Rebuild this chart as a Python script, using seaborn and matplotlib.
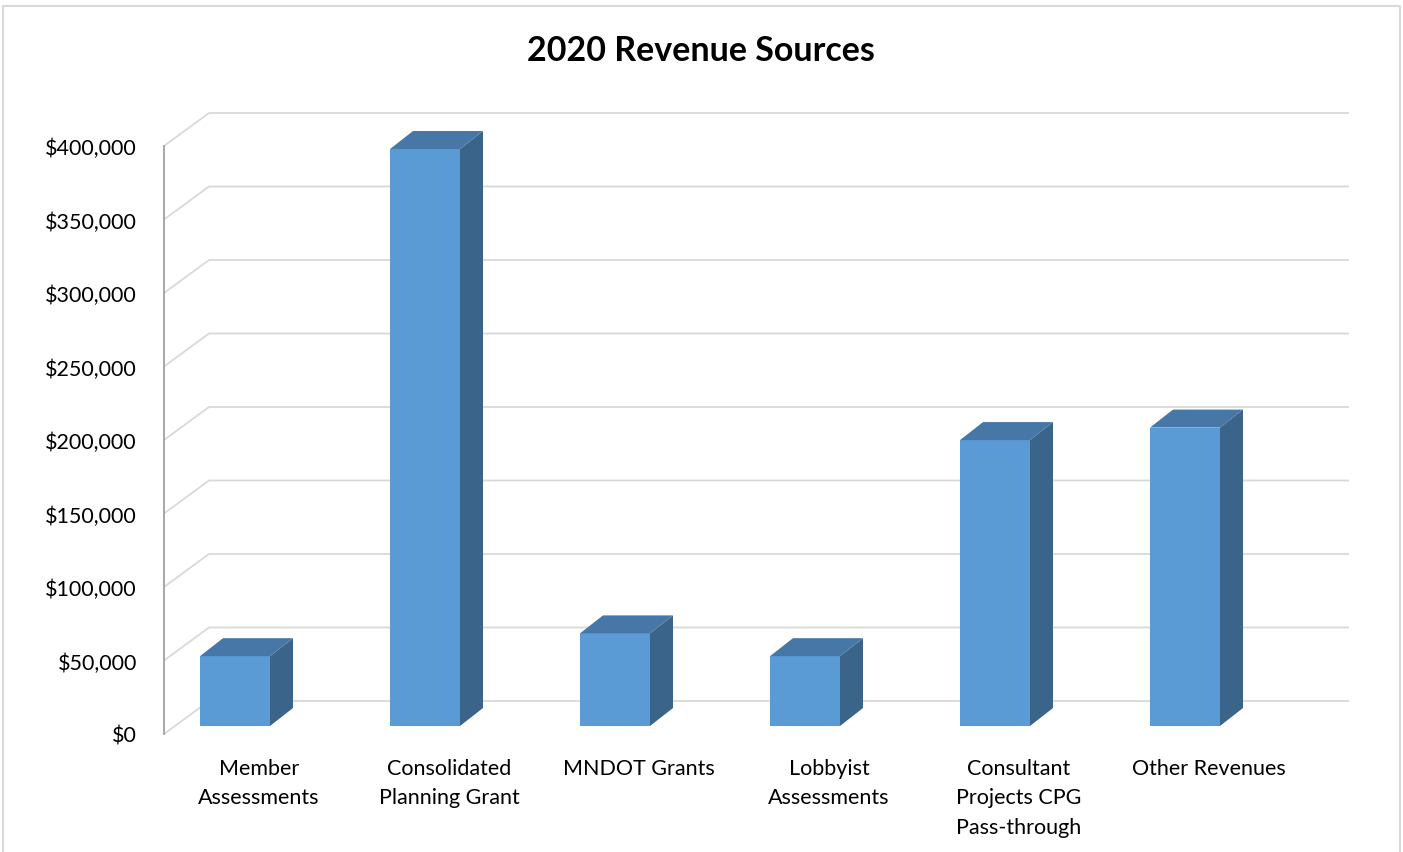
import numpy as np
import pandas as pd
import matplotlib
matplotlib.use("Agg")
import matplotlib.pyplot as plt
import seaborn as sns
from matplotlib.patches import Polygon, Rectangle
from matplotlib.transforms import ScaledTranslation

# ---- data ----
categories = ["Member\nAssessments", "Consolidated\nPlanning Grant", "MNDOT Grants",
              "Lobbyist\nAssessments", "Consultant\nProjects CPG\nPass-through", "Other Revenues"]
revenues = [47500, 392500, 63000, 47500, 194500, 203000]
yticks = [0, 50000, 100000, 150000, 200000, 250000, 300000, 350000, 400000]
ytick_labels = ["$0", "$50,000", "$100,000", "$150,000", "$200,000",
                "$250,000", "$300,000", "$350,000", "$400,000"]
title = "2020 Revenue Sources"

# ---- style ----
FRONT = "#5B9BD5"
TOP = "#4677A6"
SIDE = "#3A6489"
GRID = "#D9D9D9"
FONT = ["Lato", "DejaVu Sans"]

sns.set_theme(style="white")
plt.rcParams["font.family"] = FONT
plt.rcParams["text.color"] = "black"

W, H, DPI = 14.03, 8.53, 100
fig = plt.figure(figsize=(W, H), dpi=DPI)

# front plane axes (pixel geometry)
ax_left_px, ax_width_px = 164, 1140
ax_bottom_px, ax_height_px = 735, 588
ax = fig.add_axes([ax_left_px / 1403, (853 - ax_bottom_px) / 853,
                   ax_width_px / 1403, ax_height_px / 853])

df = pd.DataFrame({"cat": categories, "val": revenues})
bar_w = 70 / 190
sns.barplot(data=df, x="cat", y="val", color=FRONT, width=bar_w, saturation=1,
            ax=ax, zorder=3, edgecolor="none", linewidth=0)

ax.set_xlim(-0.5, 5.5)
ax.set_ylim(0, 400000)

# pixel -> data conversions
px_x = 1.0 / 190
px_y = 400000 / 588

# shift of the bars' front faces relative to the front plane (px)
shift = ScaledTranslation(-24 / DPI, 8 / DPI, fig.dpi_scale_trans)
bar_tr = ax.transData + shift
depth_dx, depth_dy = 23 * px_x, 18 * px_y

for p in ax.patches:
    p.set_transform(bar_tr)
    x0 = p.get_x()
    x1 = x0 + p.get_width()
    h = p.get_height()
    side = Polygon([(x1, 0), (x1, h), (x1 + depth_dx, h + depth_dy), (x1 + depth_dx, depth_dy)],
                   closed=True, facecolor=SIDE, edgecolor="none", transform=bar_tr,
                   zorder=3, clip_on=False)
    top = Polygon([(x0, h), (x1, h), (x1 + depth_dx, h + depth_dy), (x0 + depth_dx, h + depth_dy)],
                  closed=True, facecolor=TOP, edgecolor="none", transform=bar_tr,
                  zorder=3, clip_on=False)
    ax.add_patch(side)
    ax.add_patch(top)

# 3D gridlines: diagonal on the side + horizontal on the back wall
back_dx, back_dy = 45 * px_x, 33 * px_y
x_lo, x_hi = ax.get_xlim()
for v in yticks:
    ax.plot([x_lo, x_lo + back_dx, x_hi + back_dx], [v, v + back_dy, v + back_dy],
            color=GRID, lw=1.3, zorder=1, clip_on=False, solid_capstyle="butt")

# axes styling
for s in ["top", "right", "bottom"]:
    ax.spines[s].set_visible(False)
ax.spines["left"].set_color("#A0A0A0")
ax.spines["left"].set_linewidth(1.3)
ax.set_yticks(yticks)
ax.set_yticklabels(ytick_labels, fontsize=15.5, color="black")
ax.tick_params(axis="y", length=0, pad=19.5)
ax.tick_params(axis="x", length=0, pad=17.5)
ax.set_xticks(range(len(categories)))
ax.set_xticklabels(categories, fontsize=15.5, color="black", linespacing=1.57, va="top")
ax.set_xlabel("")
ax.set_ylabel("")
ax.grid(False)
ax.set_facecolor("none")

fig.text(701 / 1403, 1 - 51 / 853, title, ha="center", va="center",
         fontsize=24.5, fontweight="bold", family=FONT, color="black")

# outer border
fig.patches.append(Rectangle((2.5 / 1403, -0.01), (1400 - 2.5) / 1403, 1 - 7 / 853 + 0.01,
                             transform=fig.transFigure, fill=False,
                             edgecolor="#D9D9D9", lw=1.5))

fig.savefig("out.png", dpi=DPI, facecolor="white")
